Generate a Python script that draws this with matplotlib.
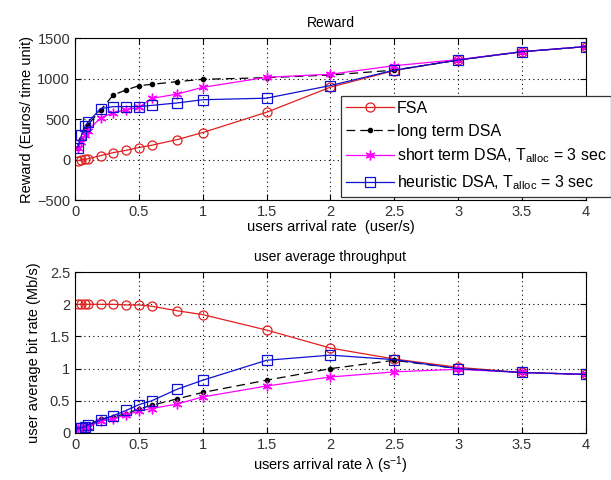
import matplotlib.pyplot as plt

plt.rcParams['font.family'] = ['Liberation Sans', 'DejaVu Sans']
plt.rcParams['mathtext.fontset'] = 'custom'
plt.rcParams['mathtext.rm'] = 'Liberation Sans'
plt.rcParams['mathtext.it'] = 'Liberation Sans:italic'

# arrival rates (user/s)
x = [0.02, 0.05, 0.08, 0.1, 0.2, 0.3, 0.4, 0.5, 0.6, 0.8, 1, 1.5, 2, 2.5, 3, 3.5, 4]

# reward (Euros / time unit)
reward_fsa = [-15, 0, 5, 10, 50, 87, 115, 150, 178, 248, 335, 585, 895, 1100, 1230, 1333, 1396]
reward_long = [150, 250, 380, 430, 610, 800, 860, 913, 930, 963, 992, 1012, 1045, 1105, 1230, 1333, 1396]
reward_short = [150, 220, 300, 360, 515, 580, 615, 645, 756, 810, 893, 1017, 1055, 1160, 1235, 1333, 1396]
reward_heur = [150, 300, 420, 460, 630, 655, 655, 655, 670, 700, 740, 759, 915, 1105, 1230, 1333, 1396]

# user average bit rate (Mb/s)
rate_fsa = [2.0, 2.0, 2.0, 2.0, 2.0, 2.0, 1.99, 1.99, 1.97, 1.9, 1.84, 1.6, 1.32, 1.15, 1.02, 0.94, 0.91]
rate_long = [0.07, 0.08, 0.1, 0.12, 0.22, 0.25, 0.3, 0.37, 0.43, 0.53, 0.63, 0.82, 1.0, 1.13, 1.0, 0.94, 0.91]
rate_short = [0.06, 0.07, 0.09, 0.1, 0.18, 0.22, 0.28, 0.34, 0.38, 0.45, 0.56, 0.73, 0.87, 0.95, 0.99, 0.94, 0.91]
rate_heur = [0.07, 0.08, 0.1, 0.12, 0.2, 0.27, 0.35, 0.44, 0.5, 0.68, 0.82, 1.13, 1.21, 1.14, 1.0, 0.94, 0.91]

labels = ['FSA', 'long term DSA',
          r'short term DSA, T$_{\mathrm{alloc}}$ = 3 sec',
          r'heuristic DSA, T$_{\mathrm{alloc}}$ = 3 sec']

fig = plt.figure(figsize=(6.11, 4.8), dpi=100)
ax1 = fig.add_axes([0.1228, 0.583, 0.836, 0.3375])
ax2 = fig.add_axes([0.1228, 0.098, 0.836, 0.335])


def dibujar(ax, fsa, lng, sht, heu):
    ax.plot(x, fsa, color='#e02020', lw=0.9, marker='o', ms=6.5, mfc='none', mew=0.9, label=labels[0])
    ax.plot(x, lng, color='k', lw=0.9, ls=(0, (7, 4)), marker='.', ms=6, label=labels[1])
    ax.plot(x, sht, color='#ff00ff', lw=0.9, marker=(6, 2, 0), ms=7, mew=1.0, label=labels[2])
    ax.plot(x, heu, color='#1010d0', lw=0.9, marker='s', ms=6.5, mfc='none', mew=0.9, label=labels[3])
    ax.set_xlim(0, 4)
    ax.set_xticks([0, 0.5, 1, 1.5, 2, 2.5, 3, 3.5, 4])
    ax.set_xticklabels(['0', '0.5', '1', '1.5', '2', '2.5', '3', '3.5', '4'])
    ax.grid(True, color='k', ls=(0, (1, 3)), lw=0.8)
    ax.tick_params(direction='in', top=True, right=True, labelsize=10.5, length=4, labelcolor='#333333')
    for s in ax.spines.values():
        s.set_linewidth(0.8)


dibujar(ax1, reward_fsa, reward_long, reward_short, reward_heur)
ax1.set_ylim(-500, 1500)
ax1.set_yticks([-500, 0, 500, 1000, 1500])
ax1.set_title('Reward', fontsize=10, pad=8)
ax1.set_xlabel('users arrival rate  (user/s)', fontsize=10.5, labelpad=1)
ax1.set_ylabel('Reward (Euros/ time unit)', fontsize=10.5, labelpad=2)
leg = ax1.legend(loc='upper left', bbox_to_anchor=(341 / 611, 1 - 96 / 480), bbox_transform=fig.transFigure,
                 fontsize=11.5, frameon=True, fancybox=False, edgecolor='#333333', framealpha=1,
                 handlelength=3.0, borderpad=0.3, labelspacing=0.5, handletextpad=0.2, borderaxespad=0)
leg.get_frame().set_linewidth(0.9)

dibujar(ax2, rate_fsa, rate_long, rate_short, rate_heur)
ax2.set_ylim(0, 2.5)
ax2.set_yticks([0, 0.5, 1, 1.5, 2, 2.5])
ax2.set_yticklabels(['0', '0.5', '1', '1.5', '2', '2.5'])
ax2.set_title('user average throughput', fontsize=10, pad=8)
ax2.set_xlabel('users arrival rate λ (s$^{-1}$)', fontsize=10.5, labelpad=2)
ax2.set_ylabel('user average bit rate (Mb/s)', fontsize=10.5, labelpad=6)

fig.savefig('out.png', dpi=100)
